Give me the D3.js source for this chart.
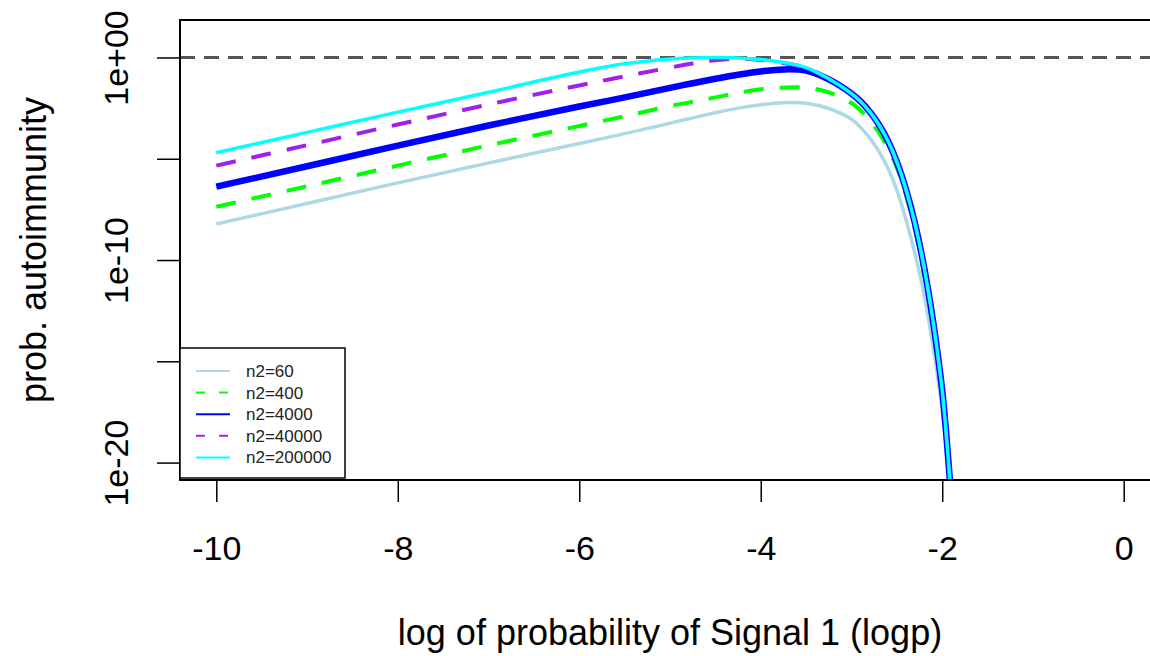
<!DOCTYPE html>
<html>
<head>
<meta charset="utf-8">
<script src="https://cdn.jsdelivr.net/npm/d3@7"></script>
<style>
  body { margin: 0; background: #fff; }
  svg { display: block; font-family: "Liberation Sans", Arial, Helvetica, sans-serif; }
</style>
</head>
<body>
<div id="chart"></div>
<script>
// logp grid shared by all series
const logp = [-10, -9, -8, -7, -6, -5.5, -5, -4.75, -4.5, -4.25, -4, -3.75, -3.5, -3.25,
              -3, -2.9, -2.8, -2.7, -2.6, -2.5, -2.4, -2.3, -2.2, -2.1, -2, -1.95, -1.9];

// log10 of prob. autoimmunity
const n2_60     = [-8.22, -7.21, -6.19, -5.21, -4.25, -3.76, -3.25, -2.98, -2.73, -2.50, -2.33, -2.23, -2.26, -2.52,
                   -3.05, -3.45, -3.97, -4.62, -5.45, -6.55, -8.00, -9.70, -11.70, -14.30, -17.40, -19.60, -22.30];
const n2_400    = [-7.37, -6.36, -5.34, -4.34, -3.38, -2.90, -2.40, -2.19, -1.97, -1.75, -1.57, -1.49, -1.49, -1.72,
                   -2.25, -2.62, -3.08, -3.70, -4.45, -5.45, -6.80, -8.50, -10.70, -13.40, -16.80, -19.10, -21.90];
const n2_4000   = [-6.38, -5.37, -4.35, -3.36, -2.42, -1.97, -1.50, -1.27, -1.05, -0.85, -0.69, -0.59, -0.65, -1.08,
                   -1.78, -2.17, -2.67, -3.30, -4.10, -5.15, -6.50, -8.20, -10.35, -13.05, -16.45, -18.90, -21.80];
const n2_40000  = [-5.34, -4.33, -3.31, -2.32, -1.38, -0.93, -0.50, -0.30, -0.14, -0.06, -0.12, -0.27, -0.52, -1.06,
                   -1.78, -2.17, -2.67, -3.30, -4.10, -5.15, -6.50, -8.20, -10.35, -13.05, -16.45, -18.90, -21.80];
const n2_200000 = [-4.70, -3.70, -2.70, -1.72, -0.72, -0.31, -0.07, -0.02, 0.00, -0.02, -0.10, -0.25, -0.50, -1.05,
                   -1.78, -2.17, -2.67, -3.30, -4.10, -5.15, -6.50, -8.20, -10.35, -13.05, -16.45, -18.90, -21.80];

const seriesNames = ["n2=60", "n2=400", "n2=4000", "n2=40000", "n2=200000"];
const seriesVals = [n2_60, n2_400, n2_4000, n2_40000, n2_200000];
const colors = ["#ADD8E6", "#00FF00", "#0000FF", "#A020F0", "#00FFFF"];
const widths = [3.5, 4, 6.5, 4, 3.5];
const dashes = [null, "20,16", null, "20,16", null];
const legendDashes = [null, "9,14", null, "9,14", null];

const xTicks = [-10, -8, -6, -4, -2, 0];
const yTicks = [1, 1e-5, 1e-10, 1e-15, 1e-20];
const yTickLabels = ["1e+00", "", "1e-10", "", "1e-20"];

const W = 1150, H = 656;
const plot = {left: 180, top: 20, right: 1160, bottom: 480};

const svg = d3.select("#chart").append("svg")
  .attr("width", W)
  .attr("height", H);

const x = d3.scaleLinear().domain([-10.4, 0.4]).range([plot.left, plot.right]);
const y = d3.scaleLog().domain([Math.pow(10, -20.86), Math.pow(10, 1.85)]).range([plot.bottom, plot.top]);

svg.append("clipPath").attr("id", "clip")
  .append("rect")
  .attr("x", plot.left).attr("y", plot.top)
  .attr("width", plot.right - plot.left).attr("height", plot.bottom - plot.top);

const g = svg.append("g").attr("clip-path", "url(#clip)");

// reference line at 1
g.append("line")
  .attr("x1", plot.left).attr("x2", plot.right)
  .attr("y1", y(1)).attr("y2", y(1))
  .attr("stroke", "#555")
  .attr("stroke-width", 3)
  .attr("stroke-dasharray", "15,9");

const line = d3.line()
  .x(d => x(d[0]))
  .y(d => y(Math.pow(10, d[1])))
  .curve(d3.curveCatmullRom.alpha(0.5));

seriesVals.forEach((vals, i) => {
  g.append("path")
    .datum(logp.map((p, j) => [p, vals[j]]))
    .attr("fill", "none")
    .attr("stroke", colors[i])
    .attr("stroke-width", widths[i])
    .attr("stroke-dasharray", dashes[i])
    .attr("stroke-linejoin", "round")
    .attr("d", line);
});

// axes
const xAxis = svg.append("g")
  .attr("transform", `translate(0,${plot.bottom})`)
  .call(d3.axisBottom(x).tickValues(xTicks).tickSize(22).tickFormat(d3.format("d")));
xAxis.select(".domain").remove();
xAxis.selectAll("line").attr("stroke", "#000").attr("stroke-width", 1.5);
xAxis.selectAll("text")
  .attr("y", 80).attr("dy", 0)
  .attr("fill", "#000")
  .style("font-size", "34px")
  .text(d => d < 0 ? "-" + Math.abs(d) : d);

const yAxis = svg.append("g")
  .attr("transform", `translate(${plot.left},0)`)
  .call(d3.axisLeft(y).tickValues(yTicks).tickSize(23).tickFormat((d, i) => yTickLabels[i]));
yAxis.select(".domain").remove();
yAxis.selectAll("line").attr("stroke", "#000").attr("stroke-width", 1.5);
yAxis.selectAll("text")
  .attr("transform", "rotate(-90)")
  .attr("x", 0).attr("y", -52).attr("dy", 0)
  .attr("text-anchor", "middle")
  .attr("fill", "#000")
  .style("font-size", "34px");

// plot box
svg.append("rect")
  .attr("x", plot.left).attr("y", plot.top)
  .attr("width", plot.right - plot.left).attr("height", plot.bottom - plot.top)
  .attr("fill", "none")
  .attr("stroke", "#000")
  .attr("stroke-width", 2);

// axis titles
svg.append("text")
  .attr("x", (plot.left + plot.right) / 2).attr("y", 645)
  .attr("text-anchor", "middle")
  .style("font-size", "36px")
  .text("log of probability of Signal 1 (logp)");

svg.append("text")
  .attr("transform", `translate(46,${(plot.top + plot.bottom) / 2}) rotate(-90)`)
  .attr("text-anchor", "middle")
  .style("font-size", "36px")
  .text("prob. autoimmunity");

// legend
const leg = svg.append("g");
leg.append("rect")
  .attr("x", 180).attr("y", 348)
  .attr("width", 165).attr("height", 130)
  .attr("fill", "#fff")
  .attr("stroke", "#000")
  .attr("stroke-width", 1.5);

seriesNames.forEach((name, i) => {
  const ry = 371 + i * 21.6;
  leg.append("line")
    .attr("x1", 196).attr("x2", 230)
    .attr("y1", ry).attr("y2", ry)
    .attr("stroke", colors[i])
    .attr("stroke-width", 2)
    .attr("stroke-dasharray", legendDashes[i]);
  leg.append("text")
    .attr("x", 246).attr("y", ry + 6)
    .style("font-size", "17px")
    .attr("fill", "#222")
    .text(name);
});
</script>
</body>
</html>
